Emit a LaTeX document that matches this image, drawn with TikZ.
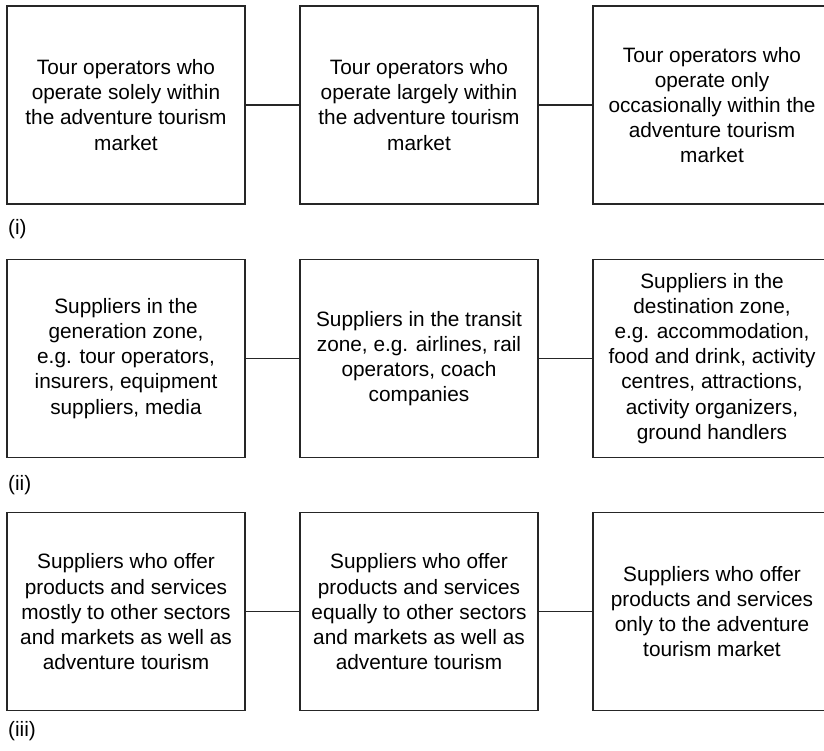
\documentclass[tikz,border=0pt]{standalone}
\usepackage{fontspec}
\setmainfont{Liberation Sans}
\usetikzlibrary{positioning}

\tikzset{
  box/.style={draw=black!85, line width=1.2pt, minimum width=238pt, minimum height=198pt,
    inner sep=0pt, outer sep=0pt, align=center,
    font=\fontsize{20.8}{25.1}\selectfont},
  tag/.style={anchor=west, inner sep=0pt, font=\fontsize{20.8}{25.1}\selectfont},
  link/.style={draw=black!85, line width=1.2pt}
}

\begin{document}
\begin{tikzpicture}[x=1pt, y=-1pt]
\useasboundingbox (0,0) rectangle (824,750);
\begin{scope}[name prefix = one-]
    \node[box] (A) at (126,105) {Tour operators who\\operate solely within\\the adventure tourism\\market};
    \node[box] (B) at (419,105) {Tour operators who\\operate largely within\\the adventure tourism\\market};
    \node[box] (C) at (712,105) {Tour operators who\\operate only\\occasionally within the\\adventure tourism\\market};
    \draw[link] (A) -- (B);
    \draw[link] (B) -- (C);
    \node[tag] (L) at (8,229) {(i)};
\end{scope}
\begin{scope}[name prefix = two-]
    \node[box] (A) at (126,358.5) {Suppliers in the\\generation zone,\\e.g. tour operators,\\insurers, equipment\\suppliers, media};
    \node[box] (B) at (419,358.5) {Suppliers in the transit\\zone, e.g. airlines, rail\\operators, coach\\companies};
    \node[box] (C) at (712,358.5) {Suppliers in the\\destination zone,\\e.g. accommodation,\\food and drink, activity\\centres, attractions,\\activity organizers,\\ground handlers};
    \draw[link] (A) -- (B);
    \draw[link] (B) -- (C);
    \node[tag] (L) at (8,485) {(ii)};
\end{scope}
\begin{scope}[name prefix = three-]
    \node[box] (A) at (126,611.7) {Suppliers who offer\\products and services\\mostly to other sectors\\and markets as well as\\adventure tourism};
    \node[box] (B) at (419,611.7) {Suppliers who offer\\products and services\\equally to other sectors\\and markets as well as\\adventure tourism};
    \node[box] (C) at (712,611.7) {Suppliers who offer\\products and services\\only to the adventure\\tourism market};
    \draw[link] (A) -- (B);
    \draw[link] (B) -- (C);
    \node[tag] (L) at (8,731) {(iii)};
\end{scope}

\end{tikzpicture}
\end{document}
